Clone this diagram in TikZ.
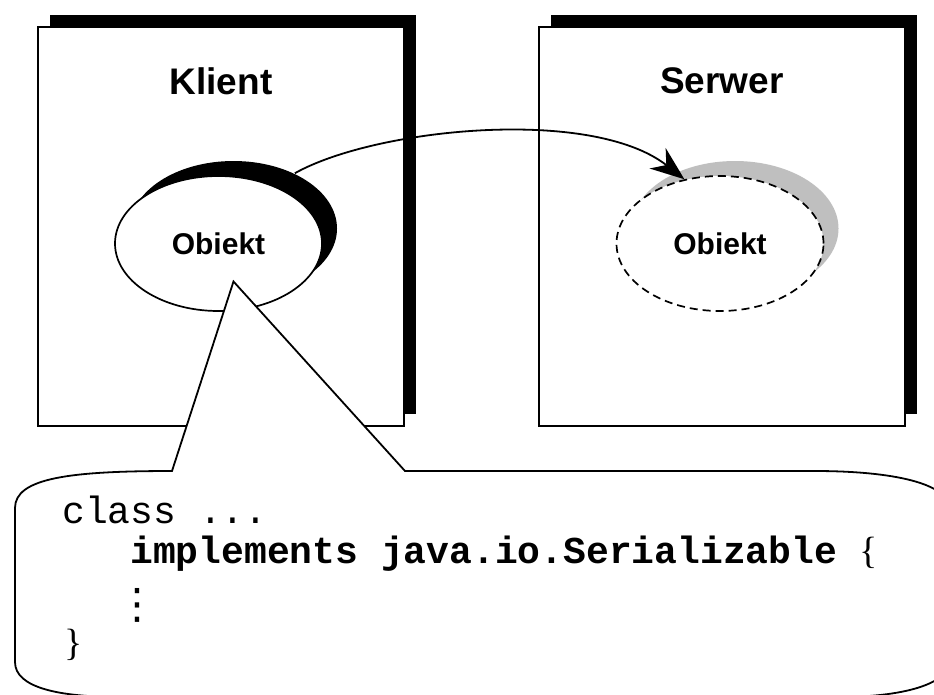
\documentclass[tikz,border=0pt]{standalone}
\usepackage{fontspec}
\setmainfont{Liberation Serif}
\setsansfont{Liberation Sans}
\setmonofont{Liberation Mono}
\newfontfamily\symbolfont{DejaVu Sans}
\usepackage{tikz}
\usetikzlibrary{arrows.meta,shapes.geometric,shadows}

\begin{document}
\begin{tikzpicture}[x=1pt,y=-1pt,
	panel/.style={draw, fill=white, line width=1.7pt, minimum width=366pt, minimum height=399pt, inner sep=0pt,
		drop shadow={shadow xshift=12pt, shadow yshift=12pt, fill=black, opacity=1}},
	title/.style={font=\sffamily\bfseries\fontsize{37}{40}\selectfont},
	obj/.style={ellipse, draw, fill=white, line width=1.7pt, minimum width=207pt, minimum height=135pt, inner sep=0pt,
		font=\sffamily\bfseries\fontsize{30}{32}\selectfont},
	code/.style={anchor=base west, inner sep=0pt, font=\fontsize{38}{40}\selectfont}]
	\useasboundingbox (0,0) rectangle (934,694);
	\clip (0,0) rectangle (934,694);

	% the two machines
	\node[panel] (klient) at (221,226.5) {};
	\node[panel] (serwer) at (722,226.5) {};
	\node[title] (klientname) at ([yshift=-55pt]klient.north) {Klient};
	\node[title] (serwername) at ([yshift=-55pt]serwer.north) {Serwer};

	% the object and its copy
	\node[obj, drop shadow={shadow xshift=15pt, shadow yshift=15pt, fill=black, opacity=1}] (kobj) at (218.5,243.5) {Obiekt};
	\node[obj, dash pattern=on 8pt off 5pt, drop shadow={shadow xshift=15pt, shadow yshift=15pt, fill=black!25, opacity=1}] (sobj) at (720,243.5) {Obiekt};

	\draw[-{Stealth[length=34pt,width=26pt,inset=11pt]}, line width=1.8pt] ([xshift=15pt,yshift=15pt]kobj.42) .. controls +(80,-45) and +(-93,-73) .. (sobj.119);

	% callout with the class
	\coordinate (tip) at ([xshift=15pt,yshift=-38pt]kobj.center);
	\draw[fill=white, line width=1.8pt] (tip) -- (172,471) .. controls (70,471) and (15,478) .. (15,508) -- (15,662)
		.. controls (15,688) and (60,697) .. (120,697) -- (840,697) .. controls (900,697) and (950,685) .. (950,660)
		-- (950,510) .. controls (950,480) and (880,471) .. (815,471) -- (405,471) -- cycle;

	\node[code] (codeclass) at (62,523) {\ttfamily class ...};
	\node[code] (codeimpl) at (130,563) {{\ttfamily\bfseries implements java.io.Serializable\ }\{};
	\node[code, font=\symbolfont\fontsize{42}{44}\selectfont] (codedots) at (116,618) {⋮};
	\node[code] (codeclose) at (64,655) {\}};
\end{tikzpicture}
\end{document}
